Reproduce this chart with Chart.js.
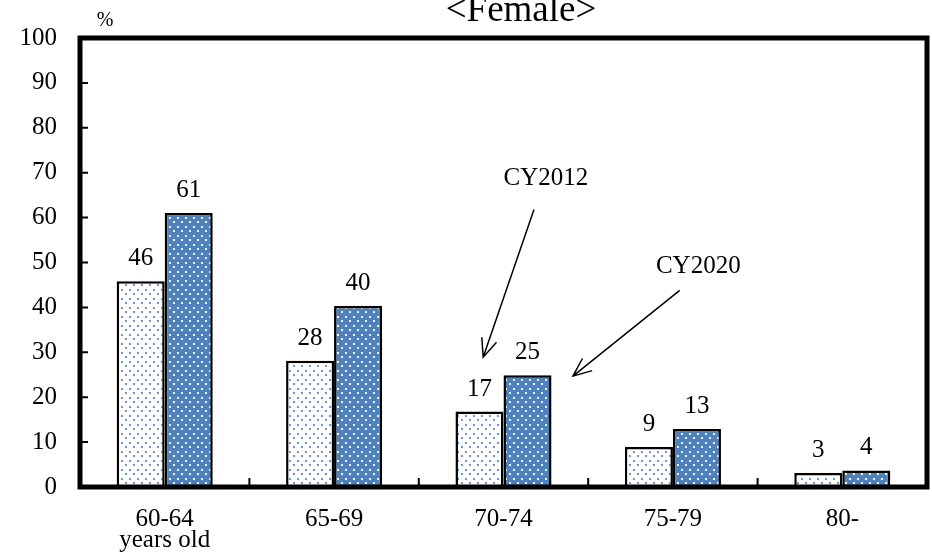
<!DOCTYPE html>
<html>
<head>
<meta charset="utf-8">
<script src="https://cdn.jsdelivr.net/npm/chart.js@4.4.0/dist/chart.umd.min.js"></script>
<style>
  html, body { margin: 0; padding: 0; background: #fff; }
  #wrap { width: 932px; height: 555px; position: relative; }
</style>
</head>
<body>
<div id="wrap"><canvas id="c"></canvas></div>
<script>
// values (%)
const ageGroups = [['60-64', 'years old'], '65-69', '70-74', '75-79', '80-'];
const cy2012 = [45.8, 28.1, 16.8, 8.9, 3.1];
const cy2020 = [61.0, 40.3, 24.9, 12.9, 3.7];
const yTicks = [0, 10, 20, 30, 40, 50, 60, 70, 80, 90, 100];

// callouts: text centre, arrow start and arrow tip, in (category index, %) units
const callouts = [
  { text: 'CY2012', at: [2.25, 68.7], from: [2.18, 61.8], to: [1.88, 28.9] },
  { text: 'CY2020', at: [3.15, 49.1], from: [3.04, 43.8], to: [2.41, 24.7] }
];

const FONT = '"Liberation Serif", "Times New Roman", serif';

// staggered dot fill like the office-style pattern
function dotPattern(bg, dot) {
  const c = document.createElement('canvas');
  c.width = 8; c.height = 9;
  const g = c.getContext('2d');
  g.fillStyle = bg;
  g.fillRect(0, 0, 8, 9);
  g.fillStyle = dot;
  g.fillRect(1, 1, 2, 2);
  g.fillRect(5, 5, 2, 2);
  return g.createPattern(c, 'repeat');
}

// frame, inward tick marks, value labels, callouts and title
const decorations = {
  id: 'decorations',
  afterDatasetsDraw(chart) {
    const ctx = chart.ctx;
    const a = chart.chartArea;
    const x = chart.scales.x, y = chart.scales.y;
    ctx.save();

    // value labels
    ctx.fillStyle = '#000';
    ctx.font = '25px ' + FONT;
    ctx.textAlign = 'center';
    ctx.textBaseline = 'alphabetic';
    chart.data.datasets.forEach((ds, i) => {
      chart.getDatasetMeta(i).data.forEach((bar, j) => {
        ctx.fillText(String(Math.round(ds.data[j])), bar.x, bar.y - 16);
      });
    });

    // tick marks pointing inside
    ctx.strokeStyle = '#000';
    ctx.lineWidth = 2;
    ctx.beginPath();
    yTicks.forEach(v => {
      const py = y.getPixelForValue(v);
      ctx.moveTo(a.left, py);
      ctx.lineTo(a.left + 8, py);
    });
    for (let i = 1; i < ageGroups.length; i++) {
      const px = x.getPixelForValue(i - 0.5);
      ctx.moveTo(px, a.bottom);
      ctx.lineTo(px, a.bottom - 9);
    }
    ctx.stroke();

    // frame
    ctx.lineWidth = 5;
    ctx.strokeRect(a.left, a.top, a.right - a.left, a.bottom - a.top);

    // callouts
    ctx.lineWidth = 1.5;
    ctx.font = '25px ' + FONT;
    ctx.textBaseline = 'middle';
    callouts.forEach(c => {
      ctx.fillText(c.text, x.getPixelForValue(c.at[0]), y.getPixelForValue(c.at[1]));
      const x1 = x.getPixelForValue(c.from[0]), y1 = y.getPixelForValue(c.from[1]);
      const x2 = x.getPixelForValue(c.to[0]), y2 = y.getPixelForValue(c.to[1]);
      const ang = Math.atan2(y2 - y1, x2 - x1);
      const head = 20, spread = 0.4;
      ctx.beginPath();
      ctx.moveTo(x1, y1);
      ctx.lineTo(x2, y2);
      ctx.moveTo(x2 - head * Math.cos(ang - spread), y2 - head * Math.sin(ang - spread));
      ctx.lineTo(x2, y2);
      ctx.lineTo(x2 - head * Math.cos(ang + spread), y2 - head * Math.sin(ang + spread));
      ctx.stroke();
    });

    // title and unit
    ctx.font = '37px ' + FONT;
    ctx.textBaseline = 'alphabetic';
    ctx.fillText('<Female>', 521, 21);
    ctx.font = '20px ' + FONT;
    ctx.fillText('%', 105, 26);
    ctx.restore();
  }
};

const canvas = document.getElementById('c');

new Chart(canvas, {
  type: 'bar',
  data: {
    labels: ageGroups,
    datasets: [
      {
        label: 'CY2012',
        data: cy2012,
        backgroundColor: dotPattern('#ffffff', '#6f97cf'),
        borderColor: '#000',
        borderWidth: 2.5,
        borderSkipped: 'bottom'
      },
      {
        label: 'CY2020',
        data: cy2020,
        backgroundColor: dotPattern('#4f81bd', '#eef3fa'),
        borderColor: '#000',
        borderWidth: 2.5,
        borderSkipped: 'bottom'
      }
    ]
  },
  options: {
    responsive: true,
    maintainAspectRatio: false,
    animation: false,
    layout: { padding: { top: 37, right: 5, left: 0, bottom: 0 } },
    datasets: { bar: { categoryPercentage: 0.567, barPercentage: 1.0 } },
    plugins: { legend: { display: false }, tooltip: { enabled: false } },
    scales: {
      x: {
        grid: { display: false, drawTicks: false },
        border: { display: false },
        ticks: {
          color: '#000',
          padding: 22,
          maxRotation: 0,
          font: { family: FONT, size: 25, lineHeight: 0.85 }
        },
        afterFit(s) { s.height = 68; }
      },
      y: {
        min: 0,
        max: 100,
        grid: { display: false, drawTicks: false },
        border: { display: false },
        afterBuildTicks(s) { s.ticks = yTicks.map(v => ({ value: v })); },
        ticks: {
          color: '#000',
          padding: 23,
          font: { family: FONT, size: 25 }
        },
        afterFit(s) { s.width = 80; }
      }
    }
  },
  plugins: [decorations]
});
</script>
</body>
</html>
